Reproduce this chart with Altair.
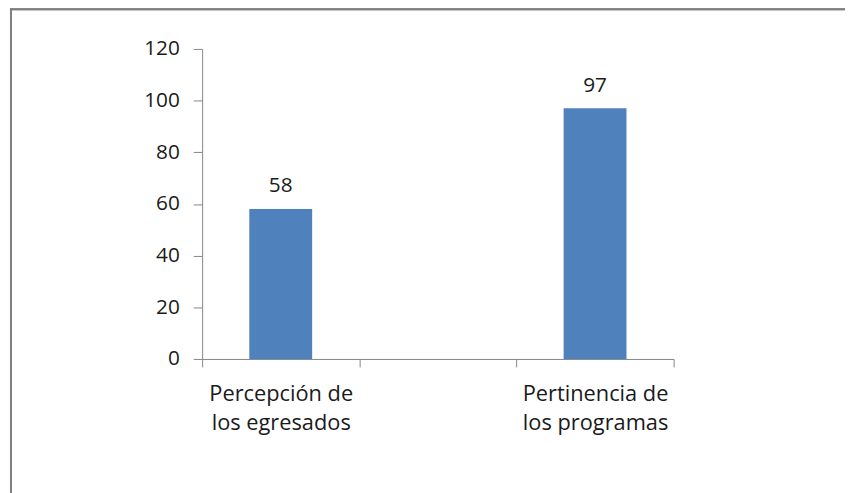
import altair as alt
import pandas as pd

categories = ["Percepción de\nlos egresados", " ", "Pertinencia de\nlos programas"]
bar_categories = ["Percepción de\nlos egresados", "Pertinencia de\nlos programas"]
values = [58, 97]

df = pd.DataFrame({"cat": bar_categories, "val": values})

FONT = "Open Sans"
AXIS_COLOR = "#868686"

x_enc = alt.X(
    "cat:N",
    scale=alt.Scale(domain=categories, paddingInner=0, paddingOuter=0),
    axis=alt.Axis(
        title=None,
        grid=False,
        labelAngle=0,
        labelExpr="split(datum.label, '\\n')",
        tickBand="extent",
        tickSize=8,
        labelPadding=17,
        labelLineHeight=29,
        labelFontSize=22,
        labelFont=FONT,
        labelColor="#1a1a1a",
        domainColor=AXIS_COLOR,
        tickColor=AXIS_COLOR,
        labelAlign="center",
    ),
)
y_enc = alt.Y(
    "val:Q",
    scale=alt.Scale(domain=[0, 120]),
    axis=alt.Axis(
        title=None,
        values=[0, 20, 40, 60, 80, 100, 120],
        grid=False,
        tickSize=9,
        labelPadding=14,
        labelFontSize=21,
        labelFont=FONT,
        labelColor="#1a1a1a",
        domainColor=AXIS_COLOR,
        tickColor=AXIS_COLOR,
    ),
)

base = alt.Chart(df)
bars = base.mark_bar(color="#4F81BD", width={"band": 0.4}).encode(x=x_enc, y=y_enc)
labels = base.mark_text(
    baseline="bottom", dy=-13, fontSize=21, font=FONT, color="#1a1a1a"
).encode(x=alt.X("cat:N"), y=alt.Y("val:Q"), text="val:Q")

frame_left = alt.Chart(df).mark_rule(color="#808080", strokeWidth=2).encode(
    x=alt.value(-193), y=alt.value(-41), y2=alt.value(460)
)
frame_top = alt.Chart(df).mark_rule(color="#808080", strokeWidth=2).encode(
    x=alt.value(-194), x2=alt.value(660), y=alt.value(-40)
)

chart = (
    alt.layer(bars, labels, frame_left, frame_top)
    .properties(
        width=476,
        height=313,
        autosize=alt.AutoSizeParams(type="none"),
        padding={"left": 196, "top": 39, "right": 173, "bottom": 133},
    )
    .configure_view(stroke="transparent", strokeWidth=0)
    .configure(background="white", style={"cell": {"stroke": "transparent", "strokeWidth": 0}})
)

chart.save("out.html", embed_options={"renderer": "svg", "actions": False})
